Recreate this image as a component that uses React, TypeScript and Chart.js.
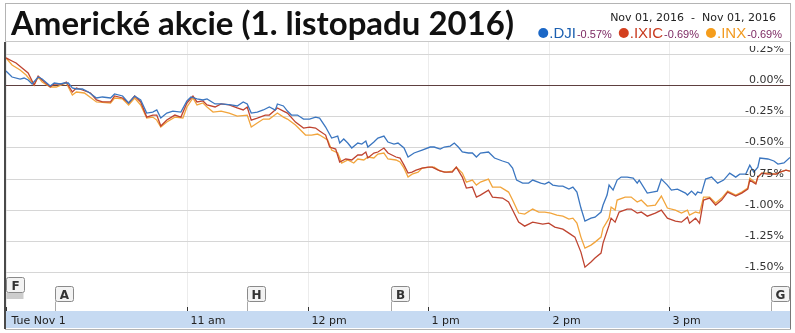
import React, { useEffect, useRef } from "react";
import { Chart, registerables } from "chart.js";
Chart.register(...registerables);

const TITLE = "Americké akcie (1. listopadu 2016)";
const DATE_RANGE = "Nov 01, 2016  -  Nov 01, 2016";
const seriesNames = [".DJI", ".IXIC", ".INX"];
const seriesChanges = ["-0.57%", "-0.69%", "-0.69%"];
const lineColors = ["#3b76c0", "#bf4430", "#f2a53c"];
const dotColors = ["#1b67c6", "#d4401f", "#f59d1c"];
const nameColors = ["#1b5fb0", "#c8391d", "#f29a20"];

const yTickValues = [0.25, 0, -0.25, -0.5, -0.75, -1.0, -1.25, -1.5];
const xTickMinutes = [0, 90, 150, 210, 270, 330];
const xTickLabels = ["Tue Nov 1", "11 am", "12 pm", "1 pm", "2 pm", "3 pm"];
const flagLetters = ["F", "A", "H", "B", "G"];
const flagMinutes = [0, 24.5, 120, 191.5, 380.5];

const djiMinutes = [0,3,7,9,11,13,16,18,22,24,27,29,31,33,35,38,41,45,48,52,54,58,61,64,67,70,73,75,77,80,83,87,90,92,95,98,100,104,107,112,115,118,120,122,125,128,131,134,135,138,140,142,145,148,151,154,156,159,162,165,166,168,170,172,175,177,179,180,183,185,188,190,193,195,198,200,203,207,211,213,216,218,221,223,225,227,230,232,234,236,240,243,247,250,252,254,257,260,262,266,268,270,272,275,277,280,282,284,286,288,291,293,296,297,299,300,302,304,306,309,312,314,315,319,324,326,329,331,334,338,339,341,343,344,346,348,351,354,357,360,363,365,368,370,372,374,375,379,382,384,387,390];
const djiValues = [0.112,0.064,0.048,0.056,0.040,0.008,0.064,0.048,-0.008,0.016,0.008,0.016,0.016,-0.024,-0.032,-0.032,-0.056,-0.104,-0.096,-0.104,-0.072,-0.088,-0.144,-0.088,-0.120,-0.225,-0.217,-0.200,-0.265,-0.225,-0.209,-0.217,-0.128,-0.096,-0.112,-0.120,-0.112,-0.152,-0.152,-0.160,-0.168,-0.136,-0.152,-0.225,-0.217,-0.200,-0.176,-0.200,-0.152,-0.168,-0.209,-0.241,-0.241,-0.273,-0.273,-0.257,-0.265,-0.337,-0.425,-0.409,-0.465,-0.433,-0.465,-0.505,-0.465,-0.473,-0.449,-0.497,-0.457,-0.425,-0.409,-0.457,-0.473,-0.465,-0.505,-0.577,-0.545,-0.521,-0.497,-0.497,-0.513,-0.497,-0.489,-0.465,-0.497,-0.537,-0.545,-0.545,-0.577,-0.545,-0.537,-0.585,-0.609,-0.625,-0.666,-0.762,-0.786,-0.786,-0.762,-0.786,-0.794,-0.778,-0.802,-0.810,-0.810,-0.834,-0.818,-0.858,-0.986,-1.091,-1.067,-1.059,-1.018,-0.962,-0.882,-0.802,-0.842,-0.762,-0.738,-0.738,-0.746,-0.786,-0.762,-0.866,-0.850,-0.754,-0.802,-0.842,-0.834,-0.866,-0.882,-0.850,-0.882,-0.858,-0.866,-0.754,-0.738,-0.786,-0.762,-0.706,-0.738,-0.714,-0.714,-0.642,-0.698,-0.658,-0.585,-0.593,-0.609,-0.634,-0.625,-0.580];

const ixicMinutes = [0,3,5,8,11,14,16,18,22,24,28,30,33,35,38,42,45,48,52,54,58,61,64,67,70,73,75,77,80,84,87,90,93,95,98,100,104,107,111,115,118,120,122,125,129,131,135,138,140,144,148,151,154,156,159,161,164,166,169,172,175,177,179,180,183,185,188,190,194,196,198,200,202,204,207,210,212,215,218,222,224,227,229,232,234,236,240,242,247,250,252,255,258,262,267,270,273,277,280,283,286,288,291,293,296,297,300,301,303,305,309,311,314,316,319,323,326,329,333,336,339,340,343,345,347,350,353,356,359,363,366,369,370,373,374,376,379,383,385,388,390];
const ixicValues = [0.217,0.192,0.176,0.136,0.096,0.000,0.072,0.040,-0.016,0.008,0.008,0.024,-0.056,-0.024,-0.040,-0.064,-0.120,-0.136,-0.136,-0.088,-0.104,-0.144,-0.088,-0.136,-0.257,-0.241,-0.241,-0.329,-0.281,-0.241,-0.257,-0.144,-0.088,-0.136,-0.128,-0.160,-0.176,-0.152,-0.160,-0.184,-0.200,-0.176,-0.281,-0.265,-0.241,-0.241,-0.184,-0.209,-0.225,-0.297,-0.345,-0.337,-0.345,-0.369,-0.401,-0.497,-0.513,-0.617,-0.593,-0.601,-0.561,-0.561,-0.537,-0.585,-0.545,-0.537,-0.505,-0.545,-0.577,-0.585,-0.642,-0.706,-0.698,-0.682,-0.666,-0.658,-0.658,-0.682,-0.698,-0.698,-0.658,-0.738,-0.826,-0.818,-0.898,-0.882,-0.842,-0.898,-0.906,-0.938,-1.002,-1.099,-1.131,-1.099,-1.115,-1.107,-1.139,-1.155,-1.187,-1.219,-1.339,-1.460,-1.419,-1.387,-1.347,-1.267,-1.123,-1.067,-1.099,-1.018,-0.994,-0.994,-1.026,-1.018,-1.051,-1.026,-1.002,-1.067,-1.091,-1.099,-1.059,-1.107,-1.067,-1.107,-0.922,-0.906,-0.962,-0.922,-0.858,-0.890,-0.866,-0.834,-0.762,-0.794,-0.738,-0.706,-0.714,-0.714,-0.698,-0.682,-0.690];

const inxMinutes = [0,3,7,10,14,16,18,22,25,30,33,35,39,45,52,54,58,61,64,67,70,73,75,77,80,84,88,90,93,95,98,100,103,107,111,115,120,122,125,128,131,135,138,140,144,149,152,155,156,160,162,165,167,170,173,175,178,180,183,185,188,190,194,196,198,200,202,205,207,211,213,216,219,222,224,227,229,232,234,236,240,242,246,250,252,255,258,262,265,268,271,274,277,280,282,284,286,288,291,293,296,297,300,301,303,304,308,311,314,316,319,323,326,329,333,336,339,340,343,345,347,350,353,356,359,363,366,369,370,373,374,376,379,383,385,388,390];
const inxValues = [0.217,0.160,0.120,0.080,0.000,0.064,0.024,-0.016,-0.016,0.016,-0.080,-0.056,-0.064,-0.136,-0.144,-0.104,-0.112,-0.160,-0.104,-0.160,-0.265,-0.257,-0.281,-0.337,-0.297,-0.257,-0.265,-0.176,-0.104,-0.160,-0.144,-0.176,-0.217,-0.209,-0.225,-0.249,-0.241,-0.337,-0.305,-0.273,-0.273,-0.225,-0.257,-0.273,-0.321,-0.401,-0.401,-0.393,-0.401,-0.441,-0.521,-0.545,-0.625,-0.601,-0.625,-0.593,-0.601,-0.577,-0.585,-0.553,-0.545,-0.593,-0.601,-0.617,-0.666,-0.738,-0.714,-0.698,-0.666,-0.658,-0.658,-0.690,-0.698,-0.690,-0.658,-0.706,-0.778,-0.762,-0.802,-0.778,-0.754,-0.818,-0.818,-0.858,-0.922,-1.026,-1.034,-0.994,-1.018,-1.018,-1.026,-1.043,-1.051,-1.075,-1.067,-1.107,-1.219,-1.307,-1.283,-1.259,-1.219,-1.147,-1.067,-0.978,-1.002,-0.922,-0.898,-0.898,-0.938,-0.922,-0.970,-0.962,-0.890,-0.986,-1.002,-1.026,-1.002,-1.043,-1.018,-1.026,-0.898,-0.898,-0.946,-0.906,-0.850,-0.882,-0.858,-0.826,-0.746,-0.786,-0.738,-0.706,-0.706,-0.714,-0.698,-0.682,-0.690];

const toPoints = (m: number[], v: number[]) => m.map((t, i) => ({ x: t, y: v[i] }));

const SMALL_FONT = '11px "DejaVu Sans", Verdana, sans-serif';

const decorPlugin = {
  id: "decor",
  beforeDatasetsDraw(chart: any) {
    const ctx = chart.ctx as CanvasRenderingContext2D;
    const xs = chart.scales.x;
    const ys = chart.scales.y;
    const ca = chart.chartArea;
    const W = chart.width;
    ctx.save();
    ctx.fillStyle = "#ffffff";
    ctx.fillRect(0, 0, W, chart.height);

    // outer frame + title separator
    ctx.strokeStyle = "#b4b4b4";
    ctx.lineWidth = 1;
    ctx.strokeRect(5.5, 3.5, 785, 326);
    ctx.beginPath();
    ctx.moveTo(5, 41.5);
    ctx.lineTo(791, 41.5);
    ctx.strokeStyle = "#c8c8c8";
    ctx.stroke();

    // axis band
    const bandTop = ca.bottom;
    ctx.fillStyle = "#c6daf2";
    ctx.fillRect(ca.left, bandTop, ca.right - ca.left, 17);

    // vertical faint grid
    ctx.strokeStyle = "#ececec";
    ctx.lineWidth = 1;
    xTickMinutes.forEach((m) => {
      const x = Math.round(xs.getPixelForValue(m)) + 0.5;
      ctx.beginPath();
      ctx.moveTo(x, ca.top);
      ctx.lineTo(x, bandTop);
      ctx.stroke();
    });

    // horizontal grid
    yTickValues.forEach((v) => {
      const y = Math.round(ys.getPixelForValue(v)) + 0.5;
      ctx.beginPath();
      ctx.moveTo(ca.left, y);
      ctx.lineTo(ca.right, y);
      ctx.strokeStyle = v === 0 ? "#5e4040" : "#d6d6d6";
      ctx.lineWidth = 1;
      ctx.stroke();
    });

    // flags
    flagLetters.forEach((L, i) => {
      const x = Math.round(xs.getPixelForValue(flagMinutes[i])) + 0.5;
      const first = i === 0;
      const top = first ? 277.5 : 286.5;
      const w = 18;
      const h = 15;
      if (!first) {
        ctx.beginPath();
        ctx.moveTo(x, top + h);
        ctx.lineTo(x, bandTop);
        ctx.strokeStyle = "#a8a8a8";
        ctx.stroke();
      } else {
        for (let k = 0; k < 3; k++) {
          ctx.beginPath();
          ctx.moveTo(x, top + h + 1.5 + k * 2);
          ctx.lineTo(x + w - 1, top + h + 1.5 + k * 2);
          ctx.strokeStyle = "#9a9a9a";
          ctx.stroke();
        }
      }
      ctx.beginPath();
      (ctx as any).roundRect(x, top, w, h, 2);
      ctx.fillStyle = "#f3f3f3";
      ctx.fill();
      ctx.strokeStyle = "#8a8a8a";
      ctx.stroke();
      ctx.fillStyle = "#333";
      ctx.font = 'bold 12px "DejaVu Sans", Verdana, sans-serif';
      ctx.textAlign = "center";
      ctx.textBaseline = "alphabetic";
      ctx.fillText(L, x + w / 2, top + 12);
    });

    // left/right plot borders
    ctx.strokeStyle = "#4a4a4a";
    ctx.lineWidth = 2;
    ctx.beginPath();
    ctx.moveTo(5, 42);
    ctx.lineTo(5, 329);
    ctx.stroke();
    ctx.strokeStyle = "#777";
    ctx.lineWidth = 1;
    ctx.beginPath();
    ctx.moveTo(790.5, 42);
    ctx.lineTo(790.5, 329);
    ctx.stroke();

    // x ticks and labels
    ctx.font = SMALL_FONT;
    ctx.fillStyle = "#222";
    ctx.textAlign = "left";
    ctx.textBaseline = "alphabetic";
    xTickMinutes.forEach((m, i) => {
      const x = Math.round(xs.getPixelForValue(m)) + 0.5;
      ctx.beginPath();
      ctx.moveTo(x, bandTop - 4);
      ctx.lineTo(x, bandTop);
      ctx.strokeStyle = "#333";
      ctx.stroke();
      ctx.fillText(xTickLabels[i], x + (i === 0 ? 5 : 3), bandTop + 13);
    });

    // title
    ctx.font = 'bold 32px Lato, "Open Sans", sans-serif';
    ctx.fillStyle = "#111";
    const tw = ctx.measureText(TITLE).width;
    ctx.save();
    ctx.translate(11, 35);
    ctx.scale(503 / tw, 1);
    ctx.fillText(TITLE, 0, 0);
    ctx.restore();

    // date range
    ctx.font = SMALL_FONT;
    ctx.fillStyle = "#222";
    ctx.textAlign = "right";
    ctx.fillText(DATE_RANGE, 776, 21);

    // legend (right to left)
    let cx = 782;
    for (let i = seriesNames.length - 1; i >= 0; i--) {
      ctx.font = '11px "Liberation Sans", Arial, sans-serif';
      ctx.fillStyle = "#7d2a63";
      ctx.textAlign = "right";
      ctx.fillText(seriesChanges[i], cx, 38);
      cx -= ctx.measureText(seriesChanges[i]).width + 1;
      ctx.font = '15px "Liberation Sans", Arial, sans-serif';
      ctx.fillStyle = nameColors[i];
      ctx.fillText(seriesNames[i], cx, 38);
      cx -= ctx.measureText(seriesNames[i]).width + 1;
      ctx.beginPath();
      ctx.arc(cx - 5, 33, 5, 0, Math.PI * 2);
      ctx.fillStyle = dotColors[i];
      ctx.fill();
      cx -= 10 + 7;
    }
    ctx.restore();
  },
  afterDatasetsDraw(chart: any) {
    const ctx = chart.ctx as CanvasRenderingContext2D;
    const ys = chart.scales.y;
    ctx.save();
    ctx.beginPath();
    ctx.rect(700, 46, 90, 240);
    ctx.clip();
    ctx.font = SMALL_FONT;
    ctx.fillStyle = "#333";
    ctx.textAlign = "right";
    ctx.textBaseline = "alphabetic";
    yTickValues.forEach((v) => {
      const y = ys.getPixelForValue(v);
      ctx.fillText(v.toFixed(2) + "%", 784, y - 2);
    });
    ctx.restore();
  },
};

export default function App() {
  const ref = useRef<HTMLCanvasElement>(null);
  useEffect(() => {
    if (!ref.current) return;
    const chart = new Chart(ref.current, {
      type: "line",
      data: {
        datasets: [
          { label: seriesNames[0], data: toPoints(djiMinutes, djiValues), borderColor: lineColors[0] },
          { label: seriesNames[1], data: toPoints(ixicMinutes, ixicValues), borderColor: lineColors[1] },
          { label: seriesNames[2], data: toPoints(inxMinutes, inxValues), borderColor: lineColors[2] },
        ],
      },
      options: {
        responsive: false,
        animation: false,
        layout: { padding: { left: 6, right: 5, top: 42, bottom: 22 } },
        elements: {
          line: { borderWidth: 1.3, tension: 0 },
          point: { radius: 0, hoverRadius: 0 },
        },
        scales: {
          x: { type: "linear", min: 0, max: 390, display: false },
          y: { type: "linear", min: -1.811, max: 0.3446, display: false },
        },
        plugins: { legend: { display: false }, tooltip: { enabled: false }, title: { display: false } },
        events: [],
      },
      plugins: [decorPlugin],
    });
    return () => chart.destroy();
  }, []);
  return (
    <div style={{ position: "fixed", left: 0, top: 0, width: 795, height: 333, background: "#fff" }}>
      <canvas ref={ref} width={795} height={333} style={{ display: "block" }} />
    </div>
  );
}
